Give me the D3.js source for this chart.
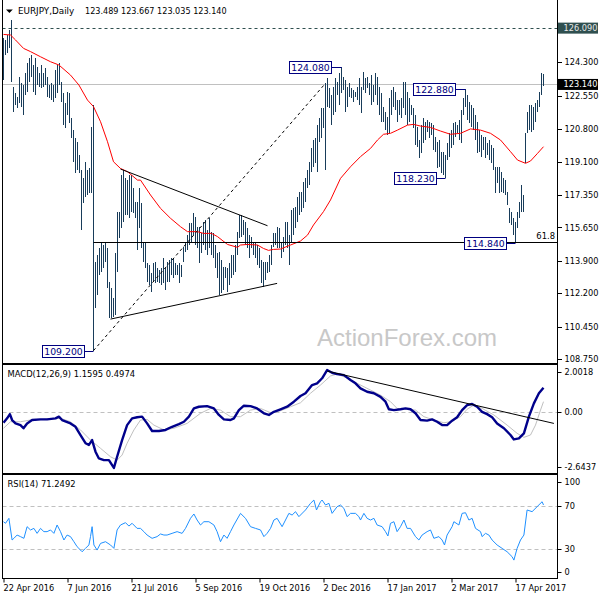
<!DOCTYPE html>
<html><head><meta charset="utf-8">
<script src="https://cdn.jsdelivr.net/npm/d3@7/dist/d3.min.js"></script>
<style>body{margin:0;background:#fff}svg{display:block}</style>
</head><body><svg id="c" width="600" height="600"></svg>
<script>
// ---------- data ----------
const title = "EURJPY,Daily";
const ohlcText = "123.489 123.667 123.035 123.140";
const tickDates = ["22 Apr 2016","7 Jun 2016","21 Jul 2016","5 Sep 2016","19 Oct 2016","2 Dec 2016","17 Jan 2017","2 Mar 2017","17 Apr 2017"];
const tickIdx = [0,32,64,96,128,160,192,224,256];
const priceTicks = [124.3,122.55,120.8,119.1,117.35,115.65,113.9,112.2,110.45,108.75];

const highs = [
125.55,125.47,125.73,125.99,126.52,123.02,122.67,122.50,123.55,123.20,
123.11,123.72,124.25,124.51,124.68,124.16,124.51,124.07,123.72,124.16,
123.72,123.98,123.55,123.11,123.20,123.11,123.90,124.16,124.25,123.29,
122.67,122.15,122.76,122.67,121.36,120.75,120.32,120.14,119.44,118.66,
118.22,119.09,118.66,118.74,120.93,122.06,113.86,114.20,114.55,114.82,
114.73,114.90,114.55,112.81,112.46,111.93,114.29,116.48,116.48,118.39,
118.66,118.22,118.13,118.39,118.39,117.70,117.00,117.00,117.70,116.91,
114.90,114.82,113.77,113.68,113.24,113.77,113.86,113.51,113.42,113.51,
114.03,113.51,113.86,113.94,114.03,114.03,113.77,113.68,113.77,113.68,
114.64,114.90,115.25,115.86,115.86,116.39,116.21,115.69,115.69,115.34,
115.95,116.04,115.51,116.13,115.43,115.34,114.73,114.29,114.38,113.94,
113.59,113.59,113.51,113.77,114.20,114.20,114.73,115.43,116.30,116.30,
116.04,115.95,115.60,115.25,115.17,114.90,114.90,114.73,114.55,113.94,
113.86,113.86,113.86,114.20,114.73,115.34,115.34,115.69,115.60,
114.90,115.17,115.95,115.95,115.25,116.56,116.65,116.74,117.26,117.52,
117.52,118.05,118.22,118.66,119.09,119.79,120.23,120.32,121.01,121.36,
121.89,121.89,123.20,123.46,122.94,122.59,123.02,123.46,123.29,123.72,
124.08,123.55,123.37,123.02,123.20,122.94,122.85,122.76,123.02,123.46,
123.02,123.81,123.46,123.55,123.20,123.63,123.11,123.72,123.55,123.02,
122.67,121.98,121.71,121.45,122.41,122.85,123.02,122.76,122.32,122.32,
122.41,123.29,123.29,122.76,122.41,122.06,121.89,121.54,120.93,120.23,
121.01,121.36,121.19,121.28,121.19,121.10,121.01,120.40,120.14,120.23,
119.62,119.62,119.44,120.05,120.58,120.75,121.10,121.19,121.01,121.28,
121.80,122.41,122.88,122.59,122.24,122.06,121.89,121.54,121.19,120.75,
120.49,120.40,120.40,120.05,120.23,119.97,119.79,118.83,118.83,118.83,
118.57,118.22,118.13,117.52,116.65,116.48,116.13,115.95,116.48,117.00,
117.87,117.35,120.58,121.71,122.06,122.06,121.98,122.15,122.32,122.76,
123.72,123.667];
const lows = [
123.37,124.68,124.77,125.03,123.29,121.68,122.06,121.89,122.15,121.98,
121.54,122.59,122.76,123.29,123.55,122.76,122.59,123.11,123.02,122.94,
123.02,123.11,122.50,122.41,122.32,122.24,122.41,122.67,123.11,122.24,
121.01,120.84,121.54,121.10,120.32,119.09,118.48,118.66,118.48,115.51,
116.91,117.26,117.35,117.43,117.43,109.20,111.41,112.11,113.16,113.33,
113.51,113.86,112.46,110.89,110.89,110.97,111.06,113.33,115.08,115.60,
115.95,116.30,116.30,116.13,116.48,116.39,116.13,114.47,115.60,114.55,
113.86,113.51,112.81,112.63,112.28,112.81,112.72,112.81,112.72,112.63,
112.72,112.37,112.81,112.81,113.16,112.98,113.16,113.16,112.72,113.07,
113.86,114.38,114.47,114.73,114.90,115.25,114.73,114.55,113.77,114.29,
114.73,114.47,114.20,114.55,114.20,114.03,113.51,112.98,112.11,112.20,
112.37,112.98,112.28,112.63,112.98,113.16,113.33,114.20,115.08,115.17,
115.25,114.73,114.55,114.03,114.55,114.20,114.03,113.68,113.51,112.72,
112.55,112.89,113.24,113.33,113.68,114.64,114.73,114.55,114.55,
114.03,114.38,114.73,114.55,113.68,114.90,115.25,115.60,115.95,116.30,
116.48,116.65,117.00,117.70,117.87,118.57,118.83,119.01,118.57,120.14,
120.32,120.84,118.66,121.98,121.89,121.01,121.54,121.71,122.59,122.06,
122.67,122.85,121.71,121.98,122.50,122.41,122.24,122.50,122.32,122.06,
121.63,122.85,122.67,122.94,122.59,122.06,122.24,122.59,122.06,121.54,
121.19,121.19,120.75,120.49,120.58,121.54,121.98,121.80,121.19,121.54,
121.36,121.89,121.54,121.01,121.19,121.54,120.84,119.97,119.88,119.27,
119.53,120.05,120.23,120.67,120.32,120.49,119.71,119.62,118.74,118.83,
118.48,118.39,118.23,119.18,119.36,119.79,119.97,120.40,120.58,120.23,
120.05,121.54,121.98,121.28,121.10,120.93,120.75,120.23,119.53,119.62,
119.36,119.71,119.27,119.44,119.18,119.01,118.66,117.43,117.96,117.43,
117.52,117.43,117.35,116.82,115.86,115.78,115.25,114.84,115.60,116.13,
116.48,116.48,119.01,120.58,120.75,120.67,120.75,121.19,121.71,121.98,
122.59,123.035];

const maIdx = [0,3.5,6,10,13.5,18.5,23.5,27.7,33.5,37.7,42,45,48.5,52,55,58.5,62,67,68.5,73.5,78.5,83.5,88.5,92,97,100,104,107,112,117,118.5,122,127,130,132.5,135,138.5,143.5,148.5,152,155,160,163.5,168.5,173.5,178.5,183.5,187,190,193.5,197,202,205,208.5,213.5,218.5,223.5,228.5,233.5,238.5,243.5,248.5,253.5,257,261,263.5,267,270];
const maVal = [125.76,125.73,125.47,125.03,124.86,124.59,124.33,124.16,123.63,123.11,122.32,121.98,121.19,120.14,119.09,118.74,118.57,118.13,118.13,117.35,116.65,116.13,115.69,115.43,115.43,115.34,115.34,115.17,114.76,114.61,114.73,114.76,114.73,114.55,114.45,114.50,114.52,114.73,114.94,115.25,115.78,116.48,117.09,118.22,118.83,119.36,119.79,120.23,120.53,120.58,120.75,121.01,121.05,120.96,120.89,120.70,120.53,120.58,120.81,120.75,120.58,120.23,119.62,119.18,119.01,119.13,119.53,119.88];

const macdIdx = [0,1.8,3.2,4.3,6,8.5,10,11.8,14.3,18.5,21.8,26,27.7,29.3,33.5,36,38.5,41,42.7,44.3,46,47.7,50.2,52.7,55.2,56.8,59.3,61.8,64.3,66.8,69.3,71.8,74.3,77.7,81,84.3,87.7,90.2,92.7,95.2,97.7,101.8,105.2,107.7,110.2,113.5,115.2,117.7,120.2,123.5,126.8,130.2,132.7,135.2,138.5,141.8,145.2,
148.5,151,154.3,156.8,159.3,161.8,164.3,166.8,170.2,173.5,176,178.5,181.8,185.2,188.5,191,192.7,195.2,198.5,201,203.5,206,208.5,211.8,214.3,216.8,219.3,221.8,224.3,226.8,229.3,231.8,234.3,236.8,239.3,241.8,244.3,246.8,250.2,253.5,255.2,257.7,260.2,262.7,265.2,267.7,270];
const macdVal = [-0.50,-0.29,-0.09,-0.37,-0.53,-0.61,-0.76,-0.53,-0.37,-0.34,-0.34,-0.29,-0.21,-0.37,-0.53,-0.69,-1.08,-1.47,-1.55,-1.32,-1.87,-2.19,-2.27,-2.27,-2.64,-2.11,-1.32,-0.61,-0.29,-0.24,-0.21,-0.53,-0.89,-0.89,-0.84,-0.69,-0.56,-0.45,-0.21,0.18,0.26,0.29,0.18,-0.13,-0.34,-0.37,-0.29,0.10,0.31,0.29,0.18,-0.05,-0.13,0.02,0.14,0.26,0.50,
0.77,0.90,1.29,1.37,1.61,2.00,1.87,1.81,1.76,1.53,1.37,1.13,0.97,0.90,0.73,0.50,0.14,0.10,0.14,0.18,0.14,-0.05,-0.37,-0.40,-0.34,-0.45,-0.61,-0.61,-0.40,-0.24,0.10,0.34,0.39,0.26,0.02,-0.09,-0.24,-0.53,-0.76,-1.08,-1.29,-1.24,-1.00,-0.21,0.42,0.90,1.16];

const sigIdx = [0,3.5,8.5,13.5,20.2,28.5,33.5,38.5,43.5,48.5,53.5,56.8,59.3,61.8,65.2,68.5,71.8,75.2,80.2,85.2,91.8,98.5,103.5,108.5,113.5,118.5,123.5,128.5,133.5,138.5,143.5,
148.5,153.5,158.5,163.5,166.8,171,176.8,183.5,188.5,193.5,196.8,201.8,206,210.2,215.2,220.2,223.5,228.5,231.8,235.2,239.3,245.2,251.8,256.8,260.2,263.5,266,268.5,270];
const sigVal = [-0.76,-0.45,-0.45,-0.37,-0.34,-0.29,-0.45,-0.84,-1.32,-1.71,-2.11,-2.27,-2.03,-1.47,-0.84,-0.37,-0.34,-0.61,-0.84,-0.76,-0.53,-0.05,0.18,0.10,-0.21,-0.21,0.10,0.18,-0.02,0.07,0.26,
0.45,0.90,1.29,1.72,1.81,1.65,1.37,1.05,0.81,0.50,0.18,0.14,0.10,-0.21,-0.37,-0.50,-0.45,-0.21,0.14,0.34,0.18,-0.13,-0.61,-1.00,-1.19,-1.08,-0.61,0.10,0.50];

const rsiIdx = [0,1,2.7,4.3,5.2,6.8,8.5,10.2,11.8,13.5,15.2,16.8,18.5,20.2,21.8,23.5,25.2,26.8,28.5,30.2,31.8,33.5,35.2,36.8,38.5,39.3,41,42.7,43.5,44.3,45.2,46.8,48.5,51,53.5,55.2,56.8,58.5,61,62.7,64.3,66.8,68.5,70.2,71.8,74.3,76.8,78.5,80.2,81.8,84.3,86.8,89.3,91,93.5,95.2,96.8,98.5,100.2,102.7,105.2,106.8,108.5,110.2,111.8,113.5,115.2,118.5,121,123.5,126,128.5,130.2,131.8,133.5,135.2,136.8,139.3,141,142.7,144.3,146,147.7,151,153.5,155.2,156.5,158.5,159.3,161,162.7,164.3,166.8,168.5,170.2,171.8,173.5,176,177.7,178.5,180.2,181.8,183.5,185.2,186.8,189.3,191,192.2,193.5,195.2,196.8,198.5,200.2,201.8,203.5,206,207.7,209.3,211.8,213.5,215.2,217.7,219.3,220.5,221.8,224.3,225.2,227.7,229.3,231,232.7,234.3,236,238.5,239.3,241,242.7,244.3,246.8,249.3,251.8,254.3,255.2,256.8,258.5,260.2,261.8,264.3,266.8,269.3,270];
const rsiVal = [55.4,53.9,58.6,38.1,39.7,42.8,41.3,39.7,50.7,47.6,49.1,44.4,49.1,46.0,46.0,47.6,44.4,52.3,46.0,38.1,42.8,41.3,36.5,31.8,28.6,27.0,30.2,33.4,41.3,50.7,33.4,28.6,34.9,36.5,33.4,30.2,47.6,52.3,54.5,51.3,53.9,49.1,49.1,46.0,42.8,39.7,41.3,43.8,42.8,42.8,44.4,46.0,44.4,49.1,58.6,62.7,57.0,52.3,55.4,55.4,52.3,46.0,36.5,42.8,39.7,46.0,52.3,63.3,58.6,50.7,49.1,47.6,41.3,44.4,49.1,57.0,58.6,50.7,57.0,63.3,61.7,64.9,60.2,66.5,72.8,75.9,66.5,74.3,75.9,71.2,72.8,63.3,69.6,71.2,68.0,60.2,63.3,63.3,60.2,57.0,63.3,58.6,57.0,58.6,52.3,50.7,46.0,41.9,53.9,55.4,46.0,50.7,57.0,49.1,49.1,41.3,38.1,42.8,46.0,47.6,39.7,41.3,38.1,33.4,42.8,50.7,55.4,52.3,63.3,63.9,57.0,58.6,49.1,46.0,41.3,44.4,42.8,38.1,33.4,30.2,27.0,22.3,19.1,30.2,38.1,42.8,66.5,64.9,69.6,74.3,71.25];

// annotations (bar index / price)
const labelIdx = [169,231,221,256,45];
const labelPrice = [124.08,122.88,118.23,114.84,109.20];
const triLines = [[58.5,118.71,132,115.74],[53.5,110.85,136.8,112.72]];
const fibDiag = [45,109.20,161,123.20];
const fibLevel = 114.88, fibFrom = 45, fibText = "61.8";
const alertLevel = 126.09, bidLevel = 123.14;
const macdTrend = [161.8,1.95,275.2,-0.53];
const macdTicks = [2.0018,0,-2.6437], macdTickText = ["2.0018","0.00","-2.6437"];
const rsiTicks = [100,70,30,0], rsiLevels = [70,30];
const macdLabel = "MACD(12,26,9) 1.1595 0.4974";
const rsiLabel = "RSI(14) 71.2492";

// ---------- drawing ----------
const svg = d3.select('#c');
const FONT = '"DejaVu Sans", Verdana, sans-serif';
const L = 2.5, R = 557.5;
const nBars = Math.min(highs.length, lows.length);

const x = d3.scaleLinear().domain([0,270]).range([3.5,543.5]);
const yP = d3.scaleLinear().domain([108.75,124.3]).range([359.2,62.3]);
const yM = d3.scaleLinear().domain([-2.6437,2.0018]).range([468,370]);
const yR = d3.scaleLinear().domain([0,100]).range([580.3,474.55]);

const defs = svg.append('defs');
function clip(id,x0,y0,w,h){defs.append('clipPath').attr('id',id).append('rect').attr('x',x0).attr('y',y0).attr('width',w).attr('height',h);}
clip('cm',3,0,554,363); clip('cmacd',3,365,554,108); clip('crsi',3,475,554,103); clip('caxm',557,0,43,363);

const gm = svg.append('g').attr('clip-path','url(#cm)');
// watermark
gm.append('text').attr('x',317).attr('y',346).text('ActionForex.com')
  .attr('font-family','"Liberation Sans", Arial, sans-serif').attr('font-size',24).attr('fill','#c8c8c8');
// bid line
gm.append('line').attr('x1',L).attr('x2',R).attr('y1',Math.round(yP(bidLevel))+0.5).attr('y2',Math.round(yP(bidLevel))+0.5)
  .attr('stroke','#c0c0c0').attr('stroke-width',1);
// alert dashed line
gm.append('line').attr('x1',L).attr('x2',R).attr('y1',Math.round(yP(alertLevel))+0.5).attr('y2',Math.round(yP(alertLevel))+0.5)
  .attr('stroke','#2f4f4f').attr('stroke-dasharray','3,3');
// bars
gm.append('g').selectAll('line').data(d3.range(nBars)).join('line')
  .attr('x1',i=>x(i)).attr('x2',i=>x(i)).attr('y1',i=>yP(highs[i])).attr('y2',i=>yP(lows[i]))
  .attr('stroke','#183c5a').attr('stroke-width',1).attr('shape-rendering','crispEdges');
// MA
gm.append('path').datum(d3.range(Math.min(maIdx.length,maVal.length)))
  .attr('d',d3.line().x(i=>x(maIdx[i])).y(i=>yP(maVal[i])))
  .attr('fill','none').attr('stroke','#ff0000').attr('stroke-width',1);
// fib level
const fy = Math.round(yP(fibLevel))+0.5;
gm.append('line').attr('x1',x(fibFrom)).attr('x2',R).attr('y1',fy).attr('y2',fy).attr('stroke','#000');
gm.append('text').attr('x',555).attr('y',fy-4).attr('text-anchor','end').text(fibText)
  .attr('font-family',FONT).attr('font-size',8.4).attr('fill','#000');
// fib diagonal
gm.append('line').attr('x1',x(fibDiag[0])).attr('y1',yP(fibDiag[1])).attr('x2',x(fibDiag[2])).attr('y2',yP(fibDiag[3]))
  .attr('stroke','#000').attr('stroke-dasharray','3,3');
// triangle
gm.selectAll('line.tri').data(triLines).join('line').attr('class','tri')
  .attr('x1',d=>x(d[0])).attr('y1',d=>yP(d[1])).attr('x2',d=>x(d[2])).attr('y2',d=>yP(d[3]))
  .attr('stroke','#000').attr('stroke-width',1);
// price labels
labelIdx.forEach((bi,k)=>{
  const yc = Math.round(yP(labelPrice[k]))+0.5;
  const bx = Math.round(x(bi)-10)+0.5;
  gm.append('line').attr('x1',bx).attr('x2',x(bi)).attr('y1',yc).attr('y2',yc).attr('stroke','#000080');
  gm.append('rect').attr('x',bx-42).attr('y',yc-6).attr('width',42).attr('height',12)
    .attr('fill','#fff').attr('stroke','#000080');
  gm.append('text').attr('x',bx-21).attr('y',yc+3.4).attr('text-anchor','middle').text(labelPrice[k].toFixed(3))
    .attr('font-family',FONT).attr('font-size',9.3).attr('fill','#000080');
});
// header
svg.append('path').attr('d','M6,9.5 L12.8,9.5 L9.4,13 Z').attr('fill','#000');
svg.append('text').attr('x',18).attr('y',14).text(title).attr('font-family',FONT).attr('font-size',8.8).attr('fill','#000');
svg.append('text').attr('x',85).attr('y',14).text(ohlcText).attr('font-family',FONT).attr('font-size',8.1).attr('fill','#000');

// main axis (clip applied on an untransformed wrapper)
const gaWrap = svg.append('g').attr('clip-path','url(#caxm)');
const ga = gaWrap.append('g').attr('transform',`translate(${R},0)`)
  .call(d3.axisRight(yP).tickValues(priceTicks).tickFormat(d3.format('.3f')).tickSize(4).tickPadding(3));
ga.select('.domain').remove();
ga.attr('font-family',FONT).attr('font-size',8.2);
ga.selectAll('.tick line').attr('shape-rendering','crispEdges');
// special axis boxes
[[alertLevel,'#2f4f4f','#e8e8e8'],[bidLevel,'#000','#fff']].forEach(([v,bg,fg])=>{
  const yc = yP(v);
  svg.append('rect').attr('x',558).attr('y',yc-5.5).attr('width',40).attr('height',11).attr('fill',bg);
  svg.append('text').attr('x',563.5).attr('y',yc+3).text(v.toFixed(3)).attr('font-family',FONT).attr('font-size',8.2).attr('fill',fg);
});

// MACD panel
const gmc = svg.append('g').attr('clip-path','url(#cmacd)');
gmc.append('line').attr('x1',L).attr('x2',R).attr('y1',Math.round(yM(0))+0.5).attr('y2',Math.round(yM(0))+0.5)
  .attr('stroke','#c0c0c0').attr('stroke-dasharray','4,3');
gmc.append('path').datum(d3.range(Math.min(sigIdx.length,sigVal.length)))
  .attr('d',d3.line().x(i=>x(sigIdx[i])).y(i=>yM(sigVal[i])))
  .attr('fill','none').attr('stroke','#c0c0c0').attr('stroke-width',1);
gmc.append('path').datum(d3.range(Math.min(macdIdx.length,macdVal.length)))
  .attr('d',d3.line().x(i=>x(macdIdx[i])).y(i=>yM(macdVal[i])))
  .attr('fill','none').attr('stroke','#00008b').attr('stroke-width',2.4).attr('stroke-linejoin','round');
gmc.append('line').attr('x1',x(macdTrend[0])).attr('y1',yM(macdTrend[1])).attr('x2',x(macdTrend[2])).attr('y2',yM(macdTrend[3]))
  .attr('stroke','#000');
svg.append('text').attr('x',7.5).attr('y',376.7).text(macdLabel).attr('font-family',FONT).attr('font-size',8.4).attr('fill','#000');

// RSI panel
const gr = svg.append('g').attr('clip-path','url(#crsi)');
rsiLevels.forEach(v=>{
  const yy = Math.round(yR(v))+0.5;
  gr.append('line').attr('x1',L).attr('x2',R).attr('y1',yy).attr('y2',yy).attr('stroke','#c0c0c0').attr('stroke-dasharray','4,3');
});
gr.append('path').datum(d3.range(Math.min(rsiIdx.length,rsiVal.length)))
  .attr('d',d3.line().x(i=>x(rsiIdx[i])).y(i=>yR(rsiVal[i])))
  .attr('fill','none').attr('stroke','#1e90ff').attr('stroke-width',1);
svg.append('text').attr('x',7.5).attr('y',486.7).text(rsiLabel).attr('font-family',FONT).attr('font-size',8.4).attr('fill','#000');

// sub-panel axis labels (clamped inside panel like the terminal does)
function subAxis(vals, texts, scale, top, bot){
  vals.forEach((v,k)=>{
    const yy = Math.max(top+7.5, Math.min(bot-7, scale(v)));
    svg.append('line').attr('x1',R).attr('x2',R+4).attr('y1',Math.round(yy)+0.5).attr('y2',Math.round(yy)+0.5).attr('stroke','#000');
    svg.append('text').attr('x',564.5).attr('y',yy+3).text(texts[k]).attr('font-family',FONT).attr('font-size',8.2).attr('fill','#000');
  });
}
subAxis(macdTicks, macdTickText, yM, 364.5, 473.5);
subAxis(rsiTicks, rsiTicks.map(String), yR, 474.5, 578.5);

// frames
const fr = svg.append('g').attr('stroke','#000').attr('stroke-width',1).attr('shape-rendering','crispEdges');
fr.append('line').attr('x1',L).attr('x2',L).attr('y1',0).attr('y2',578.5);
fr.append('line').attr('x1',R).attr('x2',R).attr('y1',0).attr('y2',578.5);
[363.5,364.5,473.5,474.5,578.5].forEach(yy=>fr.append('line').attr('x1',L).attr('x2',R).attr('y1',yy).attr('y2',yy));

// date axis
const gx = svg.append('g').attr('transform','translate(0,578.5)')
  .call(d3.axisBottom(x).tickValues(tickIdx).tickFormat((d,i)=>tickDates[i]).tickSize(4).tickPadding(3));
gx.select('.domain').remove();
gx.attr('font-family',FONT).attr('font-size',8.2);
gx.selectAll('text').attr('text-anchor','start').attr('x',-0.5);
</script>
</body></html>
